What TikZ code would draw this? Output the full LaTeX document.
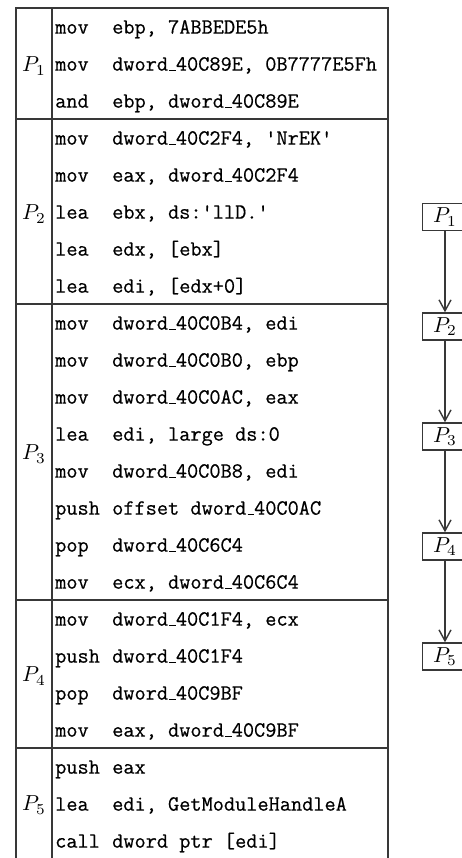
\documentclass[tikz,border=0pt]{standalone}
\usepackage{fontspec}
\setmonofont[FakeBold=0.5]{Latin Modern Mono}
\usetikzlibrary{arrows.meta}
\definecolor{linecol}{gray}{0.22}
\newcommand\usc{\leavevmode\kern.06em\vbox{\hrule width.3em}}
\newcommand\bigP[1]{\scalebox{2.17}{$P_{#1}$}}
\tikzset{
  tabline/.style={draw=linecol, line width=1.4pt},
  mn/.style={anchor=mid west, inner sep=0pt, font=\fontsize{21.7}{26}\selectfont\ttfamily},
  plabel/.style={anchor=center, inner sep=0pt},
  pbox/.style={draw=linecol, line width=1.4pt, minimum width=45pt, minimum height=27pt, inner sep=0pt},
  arr/.style={draw=linecol, line width=1.4pt, -{Straight Barb[length=11pt,width=12pt,line width=1.4pt]}}
}
\newcommand\insrow[3]{%
  \node[mn] (m#1) at (55,{8+37*(#1-0.5)+5}) {#2};
  \node[mn] (o#1) at (112,{8+37*(#1-0.5)+5}) {#3};}
\begin{document}
\begin{tikzpicture}[x=1pt,y=-1pt]
\useasboundingbox (0,0) rectangle (462,858);
% table frame
\draw[tabline] (16,860) -- (16,8) -- (388,8) -- (388,860);
\draw[tabline] (52,8) -- (52,860);
\foreach \yy in {119,304,600,748} {\draw[tabline] (16,\yy) -- (388,\yy);}
% block labels
\node[plabel] (p1) at (34,66) {\bigP{1}};
\node[plabel] (p2) at (34,214) {\bigP{2}};
\node[plabel] (p3) at (34,454) {\bigP{3}};
\node[plabel] (p4) at (34,676) {\bigP{4}};
\node[plabel] (p5) at (34,805) {\bigP{5}};
% rows
\insrow{1}{mov}{ebp, 7ABBEDE5h}
\insrow{2}{mov}{dword\usc 40C89E, 0B7777E5Fh}
\insrow{3}{and}{ebp, dword\usc 40C89E}
\insrow{4}{mov}{dword\usc 40C2F4, 'NrEK'}
\insrow{5}{mov}{eax, dword\usc 40C2F4}
\insrow{6}{lea}{ebx, ds:'llD.'}
\insrow{7}{lea}{edx, [ebx]}
\insrow{8}{lea}{edi, [edx+0]}
\insrow{9}{mov}{dword\usc 40C0B4, edi}
\insrow{10}{mov}{dword\usc 40C0B0, ebp}
\insrow{11}{mov}{dword\usc 40C0AC, eax}
\insrow{12}{lea}{edi, large ds:0}
\insrow{13}{mov}{dword\usc 40C0B8, edi}
\insrow{14}{push}{offset dword\usc 40C0AC}
\insrow{15}{pop}{dword\usc 40C6C4}
\insrow{16}{mov}{ecx, dword\usc 40C6C4}
\insrow{17}{mov}{dword\usc 40C1F4, ecx}
\insrow{18}{push}{dword\usc 40C1F4}
\insrow{19}{pop}{dword\usc 40C9BF}
\insrow{20}{mov}{eax, dword\usc 40C9BF}
\insrow{21}{push}{eax}
\insrow{22}{lea}{edi, GetModuleHandleA}
\insrow{23}{call}{dword ptr [edi]}
% flow boxes
\node[pbox] (b1) at (445,217) {\bigP{1}};
\node[pbox] (b2) at (445,326.5) {\bigP{2}};
\node[pbox] (b3) at (445,436.5) {\bigP{3}};
\node[pbox] (b4) at (445,546.5) {\bigP{4}};
\node[pbox] (b5) at (445,656.5) {\bigP{5}};
\draw[arr] (b1) -- (b2);
\draw[arr] (b2) -- (b3);
\draw[arr] (b3) -- (b4);
\draw[arr] (b4) -- (b5);
\end{tikzpicture}
\end{document}
